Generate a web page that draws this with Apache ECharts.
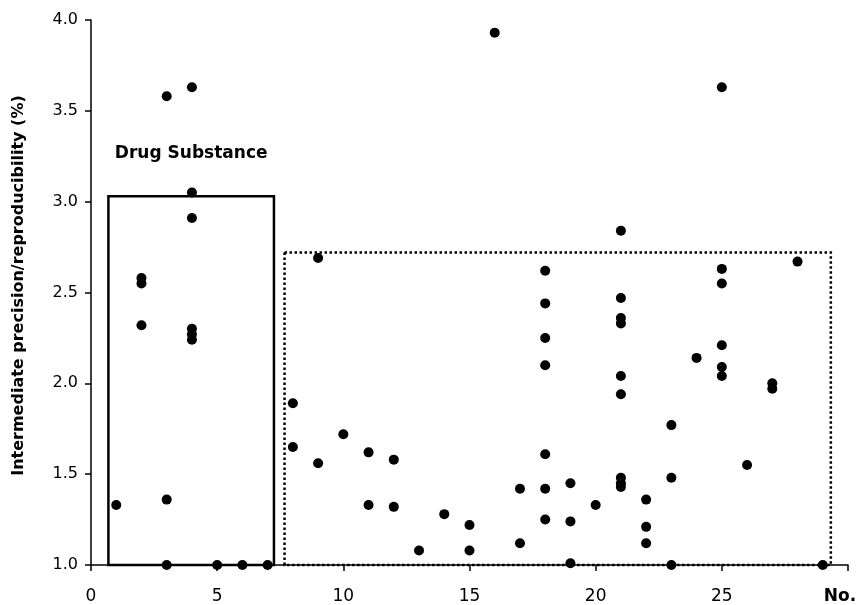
<!DOCTYPE html>
<html style="height: 100%">
<head>
    <meta charset="utf-8">
    <script src="https://cdn.jsdelivr.net/npm/echarts@6/dist/echarts.min.js"></script>
</head>
<body style="height: 100%; margin: 0; background: #fff">
    <div id="container" style="width: 860px; height: 605px"></div>
    <script type="text/javascript">
        // run number (x) and intermediate precision / reproducibility in % (y)
        var runNo = [
            1,
            2, 2, 2,
            3, 3, 3,
            4, 4, 4, 4, 4, 4,
            5, 6, 7,
            8, 8,
            9, 9,
            10,
            11, 11,
            12, 12,
            13, 14,
            15, 15,
            16,
            17, 17,
            18, 18, 18, 18, 18, 18, 18,
            19, 19, 19,
            20,
            21, 21, 21, 21, 21, 21, 21, 21, 21,
            22, 22, 22,
            23, 23, 23,
            24,
            25, 25, 25, 25, 25, 25,
            26,
            27, 27,
            28, 29
        ];
        var precision = [
            1.33,
            2.58, 2.55, 2.32,
            3.58, 1.36, 1.00,
            3.63, 3.05, 2.91, 2.30, 2.27, 2.24,
            1.00, 1.00, 1.00,
            1.89, 1.65,
            2.69, 1.56,
            1.72,
            1.62, 1.33,
            1.58, 1.32,
            1.08, 1.28,
            1.22, 1.08,
            3.93,
            1.42, 1.12,
            2.62, 2.44, 2.25, 2.10, 1.61, 1.42, 1.25,
            1.45, 1.24, 1.01,
            1.33,
            2.84, 2.47, 2.36, 2.33, 2.04, 1.94, 1.48, 1.45, 1.43,
            1.36, 1.21, 1.12,
            1.77, 1.48, 1.00,
            2.14,
            3.63, 2.63, 2.55, 2.21, 2.09, 2.04,
            1.55,
            2.00, 1.97,
            2.67, 1.00
        ];
        // framed groups: [xFrom, yTop, xTo, yBottom]
        var substanceBox = [0.69, 3.03, 7.25, 1.0];
        var productBox = [7.67, 2.72, 29.32, 1.0];
        var boxTitle = 'Drug Substance';

        var points = [];
        for (var i = 0; i < runNo.length; i++) {
            points.push([runNo[i], precision[i]]);
        }

        var font = "'DejaVu Sans', Arial, Helvetica, sans-serif";
        var chart = echarts.init(document.getElementById('container'));
        chart.setOption({
            animation: false,
            grid: { left: 91, right: 12, top: 20, bottom: 39 },
            xAxis: {
                type: 'value',
                min: 0, max: 30, interval: 5,
                splitLine: { show: false },
                axisLine: { onZero: false, lineStyle: { color: '#000', width: 1.5 } },
                axisTick: { inside: false, length: 6, lineStyle: { color: '#000', width: 1.5 } },
                axisLabel: {
                    color: '#000', fontSize: 17, fontFamily: font, margin: 23,
                    formatter: function (v) { return v === 30 ? '{n|No.}' : String(v); },
                    rich: { n: { fontWeight: 'bold', fontSize: 17, fontFamily: font, color: '#000', padding: [0, 16, 6, 0] } }
                }
            },
            yAxis: {
                type: 'value',
                min: 1, max: 4, interval: 0.5,
                splitLine: { show: false },
                axisLine: { onZero: false, lineStyle: { color: '#000', width: 1.5 } },
                axisTick: { inside: false, length: 6, lineStyle: { color: '#000', width: 1.5 } },
                axisLabel: {
                    color: '#000', fontSize: 16, fontFamily: font, margin: 13,
                    formatter: function (v) { return v.toFixed(1); }
                },
                name: 'Intermediate precision/reproducibility (%)',
                nameLocation: 'middle',
                nameGap: 64,
                nameTextStyle: { color: '#000', fontSize: 16, fontWeight: 'bold', fontFamily: font, padding: [0, 0, 0, 14] }
            },
            series: [{
                type: 'scatter',
                symbol: 'circle',
                symbolSize: 10,
                itemStyle: { color: '#000', opacity: 1 },
                z: 5,
                data: points,
                markArea: {
                    silent: true,
                    data: [
                        [{
                            coord: [substanceBox[0], substanceBox[1]],
                            itemStyle: { color: 'rgba(0,0,0,0)', borderColor: '#000', borderWidth: 2.5, borderType: 'solid' },
                            label: {
                                show: true, position: 'top', distance: 33,
                                formatter: boxTitle,
                                color: '#000', fontSize: 17, fontWeight: 'bold', fontFamily: font
                            }
                        }, {
                            coord: [substanceBox[2], substanceBox[3]]
                        }],
                        [{
                            coord: [productBox[0], productBox[1]],
                            itemStyle: { color: 'rgba(0,0,0,0)', borderColor: '#000', borderWidth: 2.5, borderType: [2.5, 2.5] },
                            label: { show: false }
                        }, {
                            coord: [productBox[2], productBox[3]]
                        }]
                    ]
                }
            }]
        });
    </script>
</body>
</html>
